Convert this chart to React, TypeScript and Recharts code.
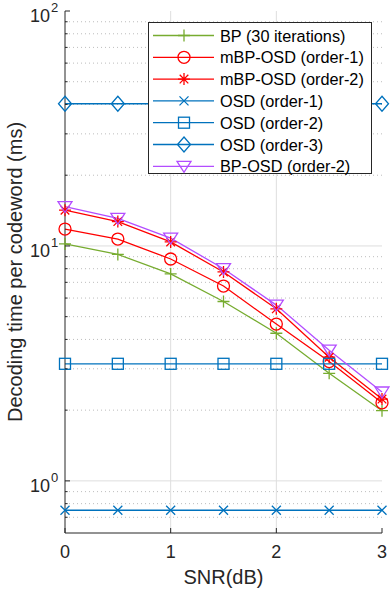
import React from 'react';
import { LineChart, Line, XAxis, YAxis, CartesianGrid, Legend, Label } from 'recharts';

const SNR = [0, 0.5, 1, 1.5, 2, 2.5, 3];
const BP_30 = [10.2, 9.2, 7.6, 5.8, 4.25, 2.87, 1.99];
const MBP_OSD_1 = [11.8, 10.7, 8.8, 6.75, 4.65, 3.22, 2.15];
const MBP_OSD_2 = [14.2, 12.7, 10.4, 7.75, 5.4, 3.36, 2.23];
const OSD_1 = [0.75, 0.75, 0.75, 0.75, 0.75, 0.75, 0.75];
const OSD_2 = [3.15, 3.15, 3.15, 3.15, 3.15, 3.15, 3.15];
const OSD_3 = [40.3, 40.3, 40.3, 40.3, 40.3, 40.3, 40.3];
const BP_OSD_2 = [14.7, 13.1, 10.8, 8.0, 5.6, 3.6, 2.39];

const X_TICKS = [0, 1, 2, 3];
const X_GRID = [1, 2];
const Y_MAJOR = [1, 10, 100];
const Y_MINOR = [0.7, 0.8, 0.9, 2, 3, 4, 5, 6, 7, 8, 9, 20, 30, 40, 50, 60, 70, 80, 90];
const Y_TICKS = [...Y_MINOR, ...Y_MAJOR].sort((a, b) => a - b);
const Y_GRID_MAJOR = [1, 10];

const X_LABEL = 'SNR(dB)';
const Y_LABEL = 'Decoding time per codeword (ms)';

const SERIES = [
  { key: 'bp', name: 'BP (30 iterations)', values: BP_30, color: '#77AC30', marker: 'plus' },
  { key: 'mbp1', name: 'mBP-OSD (order-1)', values: MBP_OSD_1, color: '#FF0000', marker: 'circle' },
  { key: 'mbp2', name: 'mBP-OSD (order-2)', values: MBP_OSD_2, color: '#FF0000', marker: 'star' },
  { key: 'osd1', name: 'OSD (order-1)', values: OSD_1, color: '#0072BD', marker: 'x' },
  { key: 'osd2', name: 'OSD (order-2)', values: OSD_2, color: '#0072BD', marker: 'square' },
  { key: 'osd3', name: 'OSD (order-3)', values: OSD_3, color: '#0072BD', marker: 'diamond' },
  { key: 'bposd2', name: 'BP-OSD (order-2)', values: BP_OSD_2, color: '#B34DFF', marker: 'tri' },
];

const DATA = SNR.map((snr, i) => {
  const row: Record<string, number> = { snr };
  SERIES.forEach((s) => { row[s.key] = s.values[i]; });
  return row;
});

const FONT = '"Liberation Sans", Arial, Helvetica, sans-serif';
const AX = '#262626';
const LW = 1.3;

function Marker({ type, cx, cy, color }: { type: string; cx: number; cy: number; color: string }) {
  const p = { fill: 'none', stroke: color, strokeWidth: LW };
  switch (type) {
    case 'plus':
      return <path d={`M${cx - 6},${cy}H${cx + 6}M${cx},${cy - 6}V${cy + 6}`} {...p} />;
    case 'circle':
      return <circle cx={cx} cy={cy} r={6} {...p} />;
    case 'star':
      return (
        <path
          d={`M${cx - 6},${cy}H${cx + 6}M${cx},${cy - 6}V${cy + 6}M${cx - 4.3},${cy - 4.3}L${cx + 4.3},${cy + 4.3}M${cx - 4.3},${cy + 4.3}L${cx + 4.3},${cy - 4.3}`}
          {...p}
        />
      );
    case 'x':
      return <path d={`M${cx - 4.5},${cy - 4.5}L${cx + 4.5},${cy + 4.5}M${cx - 4.5},${cy + 4.5}L${cx + 4.5},${cy - 4.5}`} {...p} />;
    case 'square':
      return <rect x={cx - 5.5} y={cy - 5.5} width={11} height={11} {...p} />;
    case 'diamond':
      return <polygon points={`${cx},${cy - 7.5} ${cx + 6.5},${cy} ${cx},${cy + 7.5} ${cx - 6.5},${cy}`} {...p} />;
    case 'tri':
      return <polygon points={`${cx - 7},${cy - 5} ${cx + 7},${cy - 5} ${cx},${cy + 6}`} {...p} />;
    default:
      return null;
  }
}

const makeDot = (type: string, color: string) => (props: any) => {
  const { cx, cy, index } = props;
  if (cx == null || cy == null) return <g key={`d-${type}-${index}`} />;
  return (
    <g key={`d-${type}-${index}`}>
      <Marker type={type} cx={cx} cy={cy} color={color} />
    </g>
  );
};

const isMajor = (v: number) => Y_MAJOR.some((m) => Math.abs(m - v) < 1e-9);

const YTickLeft = (props: any) => {
  const { x, y, payload } = props;
  const v = payload.value;
  const major = isMajor(v);
  const len = major ? 5 : 2.6;
  const exp = Math.round(Math.log10(v));
  return (
    <g>
      <line x1={x} x2={x + len} y1={y} y2={y} stroke={AX} strokeWidth={1} />
      {major && (
        <g fontFamily={FONT} fill={AX}>
          <text x={x - 15} y={y + 11} textAnchor="end" fontSize={18}>10</text>
          <text x={x - 14} y={y + 1} textAnchor="start" fontSize={13}>{exp}</text>
        </g>
      )}
    </g>
  );
};

const YTickRight = (props: any) => {
  const { x, y, payload } = props;
  const len = isMajor(payload.value) ? 5 : 2.6;
  return <line x1={x} x2={x - len} y1={y} y2={y} stroke={AX} strokeWidth={1} />;
};

const XTickBottom = (props: any) => {
  const { x, y, payload } = props;
  return (
    <g>
      <line x1={x} x2={x} y1={y} y2={y - 5} stroke={AX} strokeWidth={1} />
      <text x={x} y={y + 25} textAnchor="middle" fontSize={18} fontFamily={FONT} fill={AX}>
        {payload.value}
      </text>
    </g>
  );
};

const XTickTop = (props: any) => {
  const { x, y } = props;
  return <line x1={x} x2={x} y1={y} y2={y + 5} stroke={AX} strokeWidth={1} />;
};

const XTitle = (props: any) => {
  const vb = props.viewBox || { x: 65, y: 533, width: 317, height: 56 };
  return (
    <text x={vb.x + vb.width / 2} y={vb.y + 51} textAnchor="middle" fontSize={20} fontFamily={FONT} fill={AX}>
      {X_LABEL}
    </text>
  );
};

const YTitle = (props: any) => {
  const vb = props.viewBox || { x: 0, y: 11, width: 65, height: 522 };
  const cx = vb.x + 21.5;
  const cy = vb.y + vb.height / 2;
  return (
    <text x={cx} y={cy} transform={`rotate(-90 ${cx} ${cy})`} textAnchor="middle" fontSize={20} fontFamily={FONT} fill={AX}>
      {Y_LABEL}
    </text>
  );
};

const LegendBox = () => (
  <div
    style={{
      width: 224,
      height: 152,
      border: `1px solid ${AX}`,
      background: '#fff',
      boxSizing: 'border-box',
    }}
  >
    <svg width={222} height={150} style={{ display: 'block', overflow: 'visible' }}>
      {SERIES.map((s, i) => {
        const y = 12.5 + i * 21.8;
        return (
          <g key={s.key}>
            <line x1={4} x2={65} y1={y} y2={y} stroke={s.color} strokeWidth={LW} />
            <Marker type={s.marker} cx={35} cy={y} color={s.color} />
            <text x={71} y={y} dominantBaseline="central" fontSize={16.3} fontFamily={FONT} fill="#000">
              {s.name}
            </text>
          </g>
        );
      })}
    </svg>
  </div>
);

export default function App() {
  return (
    <div style={{ position: 'absolute', left: 0, top: 0, width: 390, height: 589, background: '#fff' }}>
      <LineChart width={390} height={589} data={DATA} margin={{ top: 11, right: 8, left: 0, bottom: 0 }}>
        <CartesianGrid
          xAxisId={0}
          yAxisId="left"
          horizontalValues={Y_GRID_MAJOR}
          verticalValues={X_GRID}
          stroke="#dedede"
          strokeWidth={1}
        />
        <CartesianGrid
          xAxisId={0}
          yAxisId="left"
          horizontalValues={Y_MINOR}
          vertical={false}
          stroke="#bdbdbd"
          strokeDasharray="1 3"
          strokeWidth={1}
        />
        <XAxis
          xAxisId={0}
          type="number"
          dataKey="snr"
          domain={[0, 3]}
          ticks={X_TICKS}
          interval={0}
          height={56}
          tickSize={0}
          tickMargin={0}
          axisLine={{ stroke: AX, strokeWidth: 1 }}
          tick={<XTickBottom />}
        >
          <Label content={<XTitle />} />
        </XAxis>
        <XAxis
          xAxisId="top"
          orientation="top"
          type="number"
          dataKey="snr"
          domain={[0, 3]}
          ticks={X_TICKS}
          interval={0}
          height={0}
          tickSize={0}
          tickMargin={0}
          axisLine={{ stroke: AX, strokeWidth: 1 }}
          tick={<XTickTop />}
        />
        <YAxis
          yAxisId="left"
          type="number"
          scale="log"
          domain={[0.6, 100]}
          allowDataOverflow
          ticks={Y_TICKS}
          interval={0}
          width={65}
          tickSize={0}
          tickMargin={0}
          axisLine={{ stroke: AX, strokeWidth: 1 }}
          tick={<YTickLeft />}
        >
          <Label content={<YTitle />} />
        </YAxis>
        <YAxis
          yAxisId="right"
          orientation="right"
          type="number"
          scale="log"
          domain={[0.6, 100]}
          allowDataOverflow
          ticks={Y_TICKS}
          interval={0}
          width={0}
          tickSize={0}
          tickMargin={0}
          axisLine={{ stroke: AX, strokeWidth: 1 }}
          tick={<YTickRight />}
        />
        {SERIES.map((s) => (
          <Line
            key={s.key}
            xAxisId={0}
            yAxisId="left"
            type="linear"
            dataKey={s.key}
            name={s.name}
            stroke={s.color}
            strokeWidth={LW}
            dot={makeDot(s.marker, s.color)}
            activeDot={false}
            isAnimationActive={false}
          />
        ))}
        <Legend
          layout="vertical"
          align="center"
          verticalAlign="middle"
          content={<LegendBox />}
          wrapperStyle={{ position: 'absolute', left: 148, top: 22, width: 224, height: 152 }}
        />
      </LineChart>
    </div>
  );
}
